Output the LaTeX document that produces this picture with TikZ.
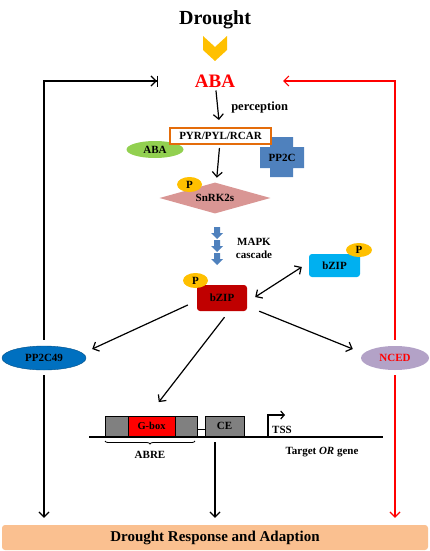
\documentclass[tikz,border=0pt]{standalone}
\usepackage{fontspec}
\setmainfont{Liberation Serif}
\usetikzlibrary{arrows.meta,shapes.geometric,decorations.pathreplacing}
\definecolor{abared}{HTML}{FF0000}
\definecolor{chevyellow}{HTML}{FFC000}
\definecolor{pyrorange}{HTML}{E46C0A}
\definecolor{abagreen}{HTML}{92D050}
\definecolor{crossblue}{HTML}{4F81BD}
\definecolor{snrkpink}{HTML}{D99694}
\definecolor{bzipred}{HTML}{C00000}
\definecolor{bzipblue}{HTML}{00B0F0}
\definecolor{pp2cblue}{HTML}{0070C0}
\definecolor{ncedpurple}{HTML}{B3A2C7}
\definecolor{respeach}{HTML}{FAC090}
\begin{document}
\begin{tikzpicture}[
  x=1pt, y=-1pt,
  txt/.style={
    font=\bfseries\fontsize{11}{13}\selectfont,
    text=black,
    inner sep=1pt
  },
  arrow_black/.style={
    draw=black,
    line width=1.2pt,
    -{Straight Barb[length=5pt,width=10pt]}
  },
  arrow_red/.style={
    arrow_black,
    draw=abared
  },
  arrow_both/.style={
    draw=black,
    line width=1.2pt,
    {Straight Barb[length=5pt,width=10pt]}-{Straight Barb[length=5pt,width=10pt]}
  },
  inhibit/.style={
    draw=black,
    line width=1.2pt,
    -{Straight Barb[length=5pt,width=10pt]Bar[width=11pt]}
  },
  oval/.style={
    txt,
    ellipse,
    inner sep=0pt
  },
  p_node/.style={
    oval,
    fill=chevyellow,
    minimum width=25pt,
    minimum height=15pt
  },
  bzip_box/.style={
    txt,
    rectangle,
    rounded corners=3pt,
    minimum width=50pt,
    minimum height=25pt
  },
  dna_box/.style={
    txt,
    rectangle,
    draw=black,
    line width=0.8pt,
    fill=gray,
    minimum height=20pt
  }
]%
\useasboundingbox (0,0) rectangle (430,551);

% stress signal
\node [txt, font=\bfseries\fontsize{20}{24}\selectfont] (drought) at (215,20) {Drought};
\fill [chevyellow] (203,36) -- (215,47) -- (227,36) -- (227,50) -- (215,61) -- (203,50) -- cycle;
\node [txt, font=\bfseries\fontsize{19}{23}\selectfont, text=abared] (aba) at (215,81) {ABA};
\coordinate (aba_left) at (158,81);
\coordinate (aba_right) at (283,81);

% receptor complex
\node [oval, fill=abagreen, minimum width=57pt, minimum height=17pt] (aba_lig) at (155,149.5) {ABA};
\fill [crossblue] (270,137) -- (293,137) -- (293,147) -- (304,147) -- (304,168) -- (293,168)
  -- (293,177) -- (270,177) -- (270,168) -- (260,168) -- (260,147) -- (270,147) -- cycle;
\node [txt] (pp2c) at (282,157.5) {PP2C};
\node [txt, draw=pyrorange, line width=2pt, fill=white, minimum width=101pt, minimum height=16pt] (pyr) at (220.5,136) {PYR/PYL/RCAR};
\draw [arrow_black, shorten <=2pt, shorten >=7pt] (aba) -- (pyr)
  node [txt, font=\bfseries\fontsize{12.5}{15}\selectfont, pos=0.5, right=12pt] (perception) {perception};

% kinase
\node [txt, diamond, aspect=3.6, fill=snrkpink, inner sep=0pt, minimum width=111pt, minimum height=31pt] (snrk) at (215,198) {\raisebox{-2pt}{SnRK2s}};
\node [p_node] (snrk_p) at (189.5,184.5) {P};
\draw [arrow_black, shorten <=3pt, shorten >=5pt] (pyr) -- (snrk);

% MAPK cascade
\foreach \y in {227,240,253}
  \fill [crossblue] (214,\y) -- (220,\y) -- (220,\y+6) -- (223,\y+6) -- (217,\y+12) -- (211,\y+6) -- (214,\y+6) -- cycle;
\node [txt, align=center, font=\bfseries\fontsize{11}{13}\selectfont] (mapk) at (254,248.5) {MAPK\\cascade};

% transcription factors
\node [bzip_box, fill=bzipred, minimum height=26pt] (bzip) at (222,298) {bZIP};
\node [p_node] (bzip_p) at (195.5,280.5) {P};
\node [bzip_box, fill=bzipblue, minimum width=51pt, minimum height=23pt] (bzip_right) at (334.5,265.5) {bZIP};
\node [p_node, minimum width=26pt, minimum height=14pt] (bzip_right_p) at (359,250) {P};
\draw [arrow_both] ([xshift=8pt,yshift=1pt]bzip.east) -- ([xshift=-7pt,yshift=-1.5pt]bzip_right.west);

% targets
\node [oval, fill=pp2cblue, draw=pp2cblue!70!black, minimum width=84pt, minimum height=24pt] (pp2c49) at (44,358) {PP2C49};
\node [oval, fill=ncedpurple, minimum width=68pt, minimum height=24pt, text=abared] (nced) at (395,358) {NCED};
\draw [arrow_black] ([xshift=-9pt,yshift=-7pt]bzip.west) -- ([xshift=6pt,yshift=9pt]pp2c49.east);
\draw [arrow_black] ([xshift=12pt]bzip.south east) -- ([xshift=-8pt,yshift=9pt]nced.west);

% feedback loops
\draw [inhibit] ([yshift=6pt]pp2c49.north) |- (aba_left);
\draw [arrow_red] ([yshift=6pt]nced.north) |- (aba_right);

% promoter
\coordinate (gene_start) at (89,437);
\coordinate (gene_end) at (383,437);
\draw [line width=1.2pt] (gene_start) -- (gene_end);
\node [dna_box, minimum width=92pt] (abre) at (151,426) {};
\node [dna_box, fill=abared, minimum width=47pt] (gbox) at (151.5,426) {\fontsize{10.5}{12}\selectfont G-box};
\node [dna_box, minimum width=39pt] (ce) at (224.5,426) {CE};
\draw [line width=0.8pt] ([yshift=-3pt]abre.east) -- ([yshift=-3pt]ce.west);
\coordinate (tss) at (268,437);
\draw [line width=1.2pt, -{Straight Barb[length=3.5pt,width=8pt]}] (tss) |- (285,415);
\node [txt, anchor=west] (tss_label) at (271,430) {TSS};
\draw [line width=0.8pt, decorate, decoration={brace, mirror, amplitude=3pt}] (105,441) -- (195,441);
\node [txt] (abre_label) at (150,455) {ABRE};
\node [txt] (gene_label) at (322,452) {Target \textit{OR} gene};
\draw [arrow_black, shorten >=7pt] ([xshift=2.5pt,yshift=-6pt]bzip.south) -- ([xshift=3pt,yshift=8pt]gbox.north);

% response
\node [txt, fill=respeach, rounded corners=3pt, minimum width=426pt, minimum height=25pt, font=\bfseries\fontsize{15}{18}\selectfont] (response) at (215,537.5) {Drought Response and Adaption};
\coordinate (gene_out) at (215,442);
\draw [arrow_black, shorten >=7pt] (gene_out) -- (gene_out |- response.north);
\draw [arrow_black, shorten >=7pt] ([yshift=-5pt]pp2c49.south) -- (pp2c49.south |- response.north);
\draw [arrow_red, shorten >=7pt] ([yshift=-5pt]nced.south) -- (nced.south |- response.north);
\end{tikzpicture}
\end{document}
